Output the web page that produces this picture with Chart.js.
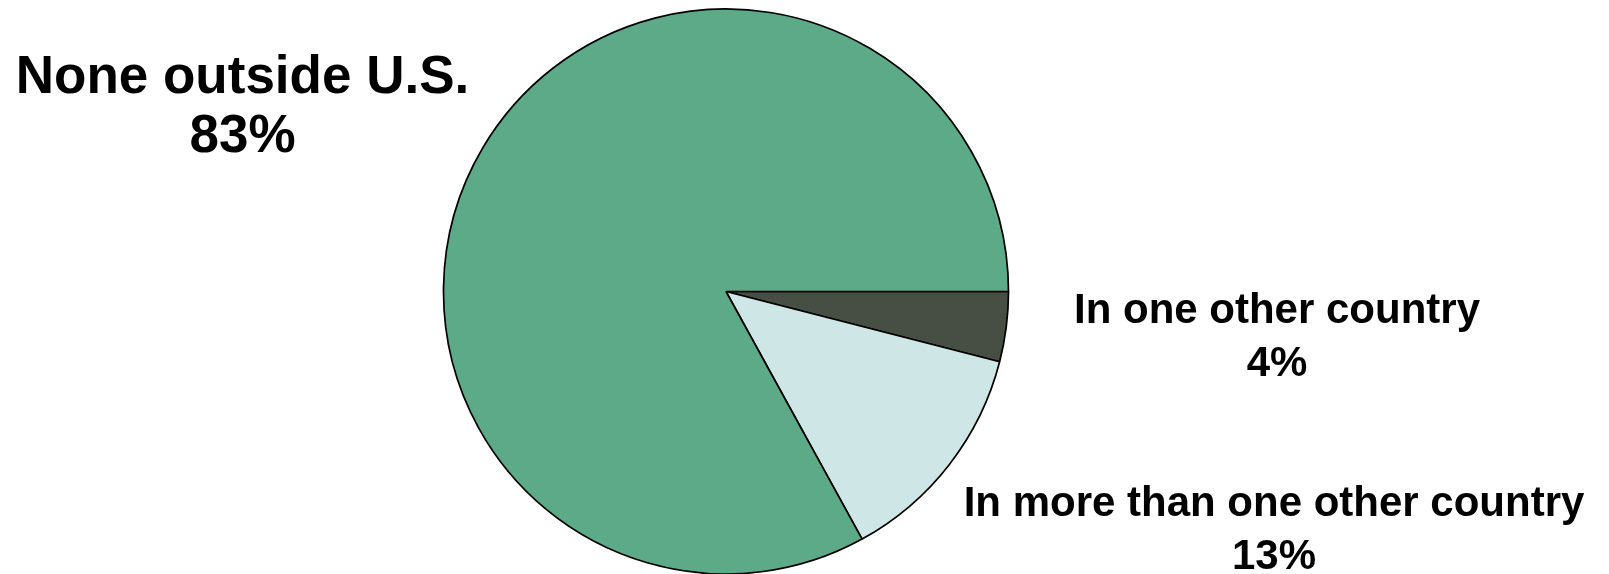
<!DOCTYPE html>
<html>
<head>
<meta charset="utf-8">
<script src="https://cdn.jsdelivr.net/npm/chart.js@4/dist/chart.umd.min.js"></script>
<style>
  html, body { margin: 0; padding: 0; background: #ffffff; }
  #wrap { position: relative; width: 1609px; height: 574px; }
</style>
</head>
<body>
<div id="wrap"><canvas id="c" width="1609" height="574"></canvas></div>
<script>
const categories = ["In one other country", "In more than one other country", "None outside U.S."];
const values = [4, 13, 83];
const valueLabels = ["4%", "13%", "83%"];
const colors = ["#474f44", "#cfe6e6", "#5daa89"];

// label layout (position / font) for each category, same order as categories
const labelLayout = [
  { x: 1277, y: 323, size: 42, gap: 53 },
  { x: 1274, y: 516, size: 42, gap: 53 },
  { x: 242.5, y: 93, size: 53, gap: 59 }
];

const labelPlugin = {
  id: 'sliceLabels',
  afterDraw(chart) {
    const ctx = chart.ctx;
    ctx.save();
    ctx.fillStyle = '#000000';
    ctx.textAlign = 'center';
    ctx.textBaseline = 'alphabetic';
    categories.forEach((name, i) => {
      const L = labelLayout[i];
      ctx.font = 'bold ' + L.size + 'px "Liberation Sans", Arial, sans-serif';
      ctx.fillText(name, L.x, L.y);
      ctx.fillText(valueLabels[i], L.x, L.y + L.gap);
    });
    ctx.restore();
  }
};

new Chart(document.getElementById('c'), {
  type: 'pie',
  data: {
    labels: categories,
    datasets: [{
      data: values,
      backgroundColor: colors,
      borderColor: '#000000',
      borderWidth: 1.7,
      hoverOffset: 0
    }]
  },
  options: {
    responsive: false,
    animation: false,
    rotation: 90,
    radius: 282.5,
    layout: { padding: { left: 0, right: 157, top: 9, bottom: 0 } },
    plugins: {
      legend: { display: false },
      tooltip: { enabled: false },
      title: { display: false }
    },
    events: []
  },
  plugins: [labelPlugin]
});
</script>
</body>
</html>
